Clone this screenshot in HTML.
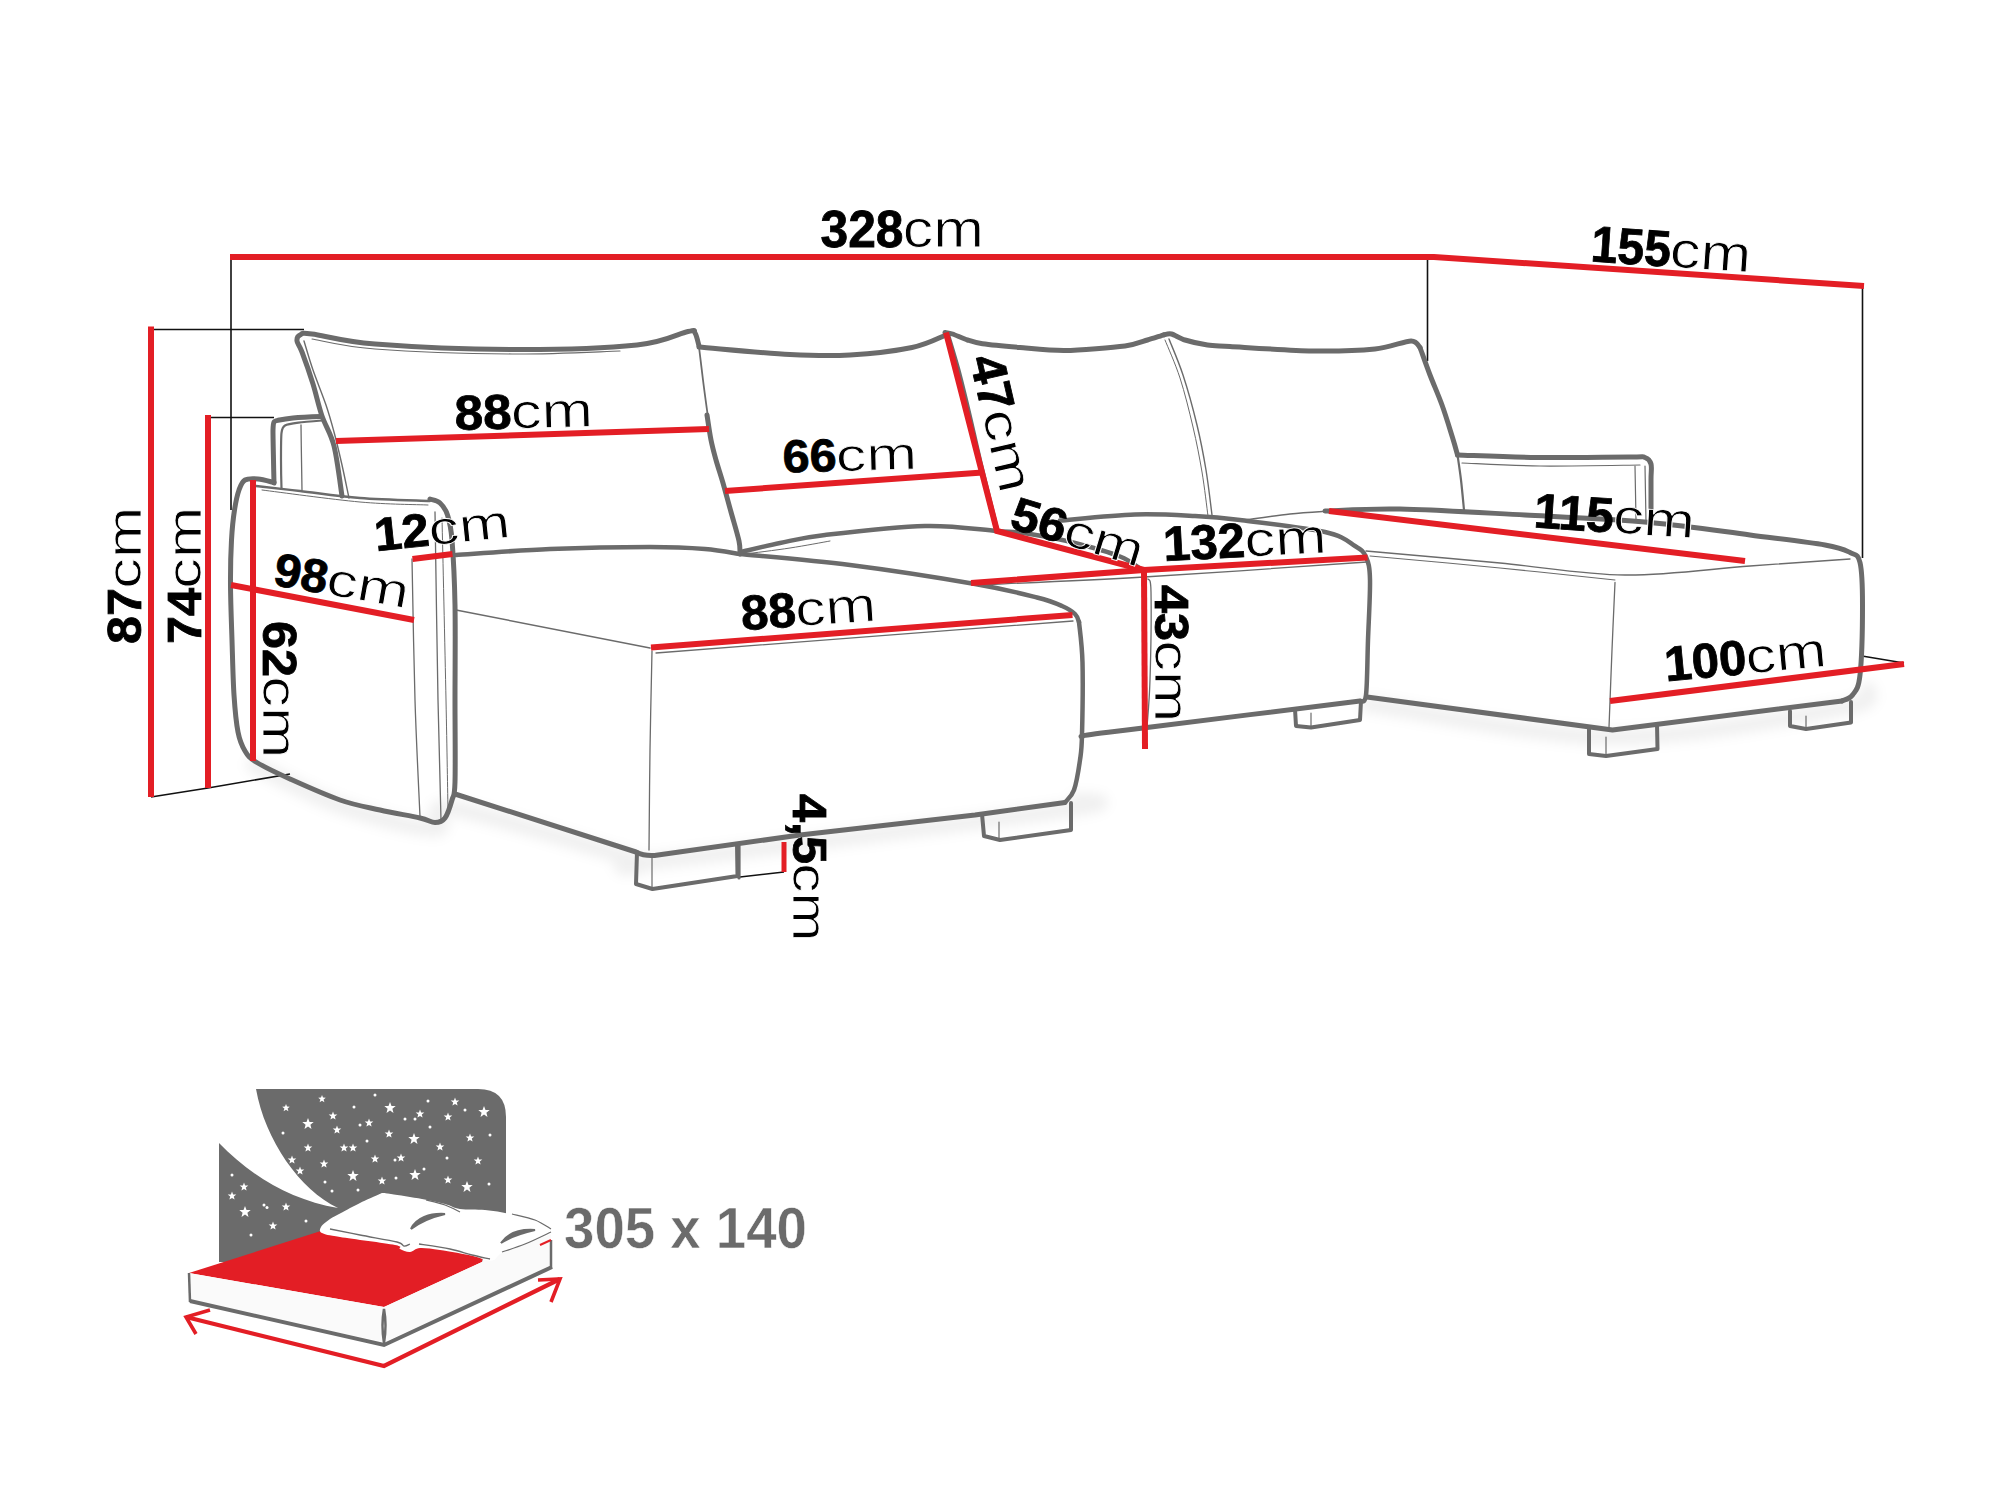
<!DOCTYPE html>
<html><head><meta charset="utf-8"><style>
html,body{margin:0;padding:0;background:#fff;}
svg{display:block;}
</style></head><body>
<svg width="2000" height="1499" viewBox="0 0 2000 1499">
<rect width="2000" height="1499" fill="#ffffff"/>
<defs><filter id="blur" x="-10%" y="-10%" width="120%" height="120%"><feGaussianBlur stdDeviation="6"/></filter></defs>
<g filter="url(#blur)"><path d="M254.0,765.0 C268.3,771.8 309.8,795.3 340.0,806.0 C370.2,816.7 416.3,828.7 435.0,829.0 C453.7,829.3 418.3,802.8 452.0,808.0 C485.7,813.2 604.0,851.0 637.0,860.0 C670.0,869.0 578.7,870.3 650.0,862.0 C721.3,853.7 993.7,820.3 1065.0,810.0 C1136.3,799.7 1075.8,801.7 1078.0,800.0" fill="none" stroke="#000" stroke-opacity="0.06" stroke-width="16" stroke-linecap="round" stroke-linejoin="round"/><path d="M1367.0,704.0 C1407.8,709.5 1532.8,736.3 1612.0,737.0 C1691.2,737.7 1799.3,715.8 1842.0,708.0 C1884.7,700.2 1863.7,693.0 1868.0,690.0" fill="none" stroke="#000" stroke-opacity="0.06" stroke-width="16" stroke-linecap="round" stroke-linejoin="round"/></g>
<path d="M151.0,329.5 L304.0,329.5" fill="none" stroke="#111" stroke-width="1.6"/><path d="M231.0,257.0 L231.0,510.0" fill="none" stroke="#111" stroke-width="1.6"/><path d="M208.0,417.5 L274.0,417.5" fill="none" stroke="#111" stroke-width="1.6"/><path d="M151.0,797.0 L208.0,788.0 L290.0,774.0" fill="none" stroke="#111" stroke-width="1.6"/><path d="M1427.5,257.0 L1427.5,361.0" fill="none" stroke="#111" stroke-width="1.6"/><path d="M1862.5,286.0 L1862.5,558.0" fill="none" stroke="#111" stroke-width="1.6"/><path d="M1862.0,656.0 L1904.0,663.0" fill="none" stroke="#111" stroke-width="1.6"/><path d="M740.0,877.0 L784.0,872.0" fill="none" stroke="#111" stroke-width="1.6"/>
<path d="M342.0,496.0 C340.7,487.7 337.3,459.3 334.0,446.0 C330.7,432.7 325.5,426.3 322.0,416.0 C318.5,405.7 316.3,394.7 313.0,384.0 C309.7,373.3 304.7,359.2 302.0,352.0 C299.3,344.8 297.3,343.8 297.0,341.0 C296.7,338.2 297.5,336.2 300.0,335.0 C302.5,333.8 299.5,332.5 312.0,334.0 C324.5,335.5 341.7,341.4 375.0,344.0 C408.3,346.6 468.3,349.3 512.0,349.5 C555.7,349.7 607.7,348.0 637.0,345.0 C666.3,342.0 678.3,333.5 688.0,331.5 C697.7,329.5 693.2,330.6 695.0,333.0 C696.8,335.4 698.3,343.8 699.0,346.0" fill="none" stroke="#6b6b6b" stroke-width="5" stroke-linejoin="round" stroke-linecap="round" /><path d="M699.0,347.0 C699.7,352.5 701.7,369.5 703.0,380.0 C704.3,390.5 705.8,401.3 707.0,410.0 C708.2,418.7 709.5,428.3 710.0,432.0" fill="none" stroke="#6b6b6b" stroke-width="1.8" stroke-linejoin="round" stroke-linecap="round" /><path d="M707.0,415.0 C707.7,419.2 709.5,432.5 711.0,440.0 C712.5,447.5 714.0,452.8 716.0,460.0 C718.0,467.2 720.5,474.3 723.0,483.0 C725.5,491.7 728.3,502.3 731.0,512.0 C733.7,521.7 737.5,534.0 739.0,541.0 C740.5,548.0 739.8,551.8 740.0,554.0" fill="none" stroke="#6b6b6b" stroke-width="5" stroke-linejoin="round" stroke-linecap="round" /><path d="M304.0,341.0 C305.5,345.8 309.3,359.3 313.0,370.0 C316.7,380.7 322.5,394.7 326.0,405.0 C329.5,415.3 331.3,422.0 334.0,432.0 C336.7,442.0 339.5,454.0 342.0,465.0 C344.5,476.0 347.8,492.5 349.0,498.0" fill="none" stroke="#6b6b6b" stroke-width="1.4" stroke-linejoin="round" stroke-linecap="round" /><path d="M312.0,339.0 C322.5,340.7 341.7,346.5 375.0,349.0 C408.3,351.5 471.2,353.7 512.0,354.0 C552.8,354.3 602.0,351.5 620.0,351.0" fill="none" stroke="#6b6b6b" stroke-width="1.2" stroke-linejoin="round" stroke-linecap="round" /><path d="M699.0,347.0 C714.2,348.2 764.8,353.2 790.0,354.5 C815.2,355.8 829.7,356.2 850.0,355.0 C870.3,353.8 896.0,350.8 912.0,347.5 C928.0,344.2 940.3,337.1 946.0,335.0" fill="none" stroke="#6b6b6b" stroke-width="5" stroke-linejoin="round" stroke-linecap="round" /><path d="M997.0,531.0 C994.2,519.5 984.8,482.2 980.0,462.0 C975.2,441.8 971.7,425.3 968.0,410.0 C964.3,394.7 961.3,382.3 958.0,370.0 C954.7,357.7 949.7,341.7 948.0,336.0" fill="none" stroke="#6b6b6b" stroke-width="5" stroke-linejoin="round" stroke-linecap="round" /><path d="M945.0,332.5 C946.0,332.7 949.5,333.0 952.5,334.0 C955.5,335.0 963.5,338.7 967.5,340.0 C971.5,341.3 975.5,342.8 982.5,343.8 C989.5,344.8 1009.0,346.6 1020.0,347.5 C1031.0,348.4 1051.0,350.7 1065.0,350.5 C1079.0,350.3 1114.0,347.4 1125.0,346.0 C1136.0,344.6 1142.3,341.5 1147.5,340.0 C1152.7,338.5 1161.8,335.4 1164.0,334.8" fill="none" stroke="#6b6b6b" stroke-width="5" stroke-linejoin="round" stroke-linecap="round" /><path d="M1164.0,334.8 C1165.0,334.6 1168.7,333.3 1171.5,334.0 C1174.3,334.7 1180.2,338.5 1185.0,340.0 C1189.8,341.5 1201.5,344.1 1207.5,345.0 C1213.5,345.9 1216.1,345.7 1230.0,346.5 C1243.9,347.3 1292.7,350.7 1312.0,351.0 C1331.3,351.3 1361.8,350.3 1375.0,349.0 C1388.2,347.7 1405.0,341.2 1411.0,341.0 C1417.0,340.8 1418.8,346.6 1420.0,347.5" fill="none" stroke="#6b6b6b" stroke-width="5" stroke-linejoin="round" stroke-linecap="round" /><path d="M1420.0,347.5 C1421.7,352.1 1426.3,365.4 1430.0,375.0 C1433.7,384.6 1438.2,394.6 1442.0,405.0 C1445.8,415.4 1449.9,429.2 1452.5,437.5 C1455.1,445.8 1456.7,452.1 1457.5,455.0" fill="none" stroke="#6b6b6b" stroke-width="5" stroke-linejoin="round" stroke-linecap="round" /><path d="M1457.5,455.0 C1458.1,459.2 1459.9,470.8 1461.0,480.0 C1462.1,489.2 1463.5,505.0 1464.0,510.0" fill="none" stroke="#6b6b6b" stroke-width="2.2" stroke-linejoin="round" stroke-linecap="round" /><path d="M1169.0,339.0 C1171.3,345.0 1178.3,360.7 1183.0,375.0 C1187.7,389.3 1193.2,409.2 1197.0,425.0 C1200.8,440.8 1203.5,455.0 1206.0,470.0 C1208.5,485.0 1211.0,507.5 1212.0,515.0" fill="none" stroke="#6b6b6b" stroke-width="1.4" stroke-linejoin="round" stroke-linecap="round" /><path d="M1165.0,340.0 C1167.5,346.3 1175.3,363.5 1180.0,378.0 C1184.7,392.5 1189.3,411.3 1193.0,427.0 C1196.7,442.7 1199.5,457.2 1202.0,472.0 C1204.5,486.8 1207.0,508.7 1208.0,516.0" fill="none" stroke="#6b6b6b" stroke-width="1.0" stroke-linejoin="round" stroke-linecap="round" /><path d="M1457.5,455.0 C1470.8,455.4 1508.2,457.2 1537.0,457.5 C1565.8,457.8 1612.0,457.0 1630.0,457.0 C1648.0,457.0 1641.5,456.3 1645.0,457.5 C1648.5,458.7 1650.0,460.2 1651.0,464.0 C1652.0,467.8 1651.0,470.2 1651.0,480.0 C1651.0,489.8 1651.0,515.8 1651.0,523.0" fill="none" stroke="#6b6b6b" stroke-width="5" stroke-linejoin="round" stroke-linecap="round" /><path d="M1462.0,463.0 C1475.0,463.5 1510.3,465.7 1540.0,466.0 C1569.7,466.3 1623.3,465.2 1640.0,465.0" fill="none" stroke="#6b6b6b" stroke-width="1.2" stroke-linejoin="round" stroke-linecap="round" /><path d="M1635.0,466.0 L1636.0,520.0" fill="none" stroke="#6b6b6b" stroke-width="1.2" stroke-linejoin="round" stroke-linecap="round" /><path d="M1645.0,466.0 L1646.0,522.0" fill="none" stroke="#6b6b6b" stroke-width="1.2" stroke-linejoin="round" stroke-linecap="round" /><path d="M274.0,483.0 C273.9,480.7 273.6,465.3 273.5,460.0 C273.4,454.7 272.9,433.8 273.0,430.0 C273.1,426.2 273.5,423.0 274.0,422.0 C274.5,421.0 276.1,420.7 278.0,420.3 C279.9,419.9 288.7,418.4 293.0,418.0 C297.3,417.6 318.2,416.6 321.0,416.5" fill="none" stroke="#6b6b6b" stroke-width="5" stroke-linejoin="round" stroke-linecap="round" /><path d="M281.5,488.0 C281.4,485.2 281.0,465.5 281.0,460.0 C281.0,454.5 281.1,436.4 281.5,433.0 C281.9,429.6 283.3,426.5 285.0,425.5 C286.7,424.5 294.8,423.2 298.5,422.7 C302.2,422.2 319.6,420.7 322.0,420.5" fill="none" stroke="#6b6b6b" stroke-width="2.2" stroke-linejoin="round" stroke-linecap="round" /><path d="M301.0,425.0 C301.1,430.8 301.3,449.2 301.5,460.0 C301.7,470.8 301.9,485.0 302.0,490.0" fill="none" stroke="#6b6b6b" stroke-width="1.3" stroke-linejoin="round" stroke-linecap="round" /><path d="M430.0,499.0 C431.7,499.7 437.1,500.3 440.0,503.0 C442.9,505.7 445.5,508.8 447.5,515.0 C449.5,521.2 450.8,525.0 452.0,540.0 C453.2,555.0 454.5,578.3 455.0,605.0 C455.5,631.7 455.0,670.5 455.0,700.0 C455.0,729.5 455.5,765.3 455.0,782.0 C454.5,798.7 453.7,794.0 452.0,800.0 C450.3,806.0 447.8,814.2 445.0,818.0 C442.2,821.8 439.2,822.5 435.0,822.5 C430.8,822.5 429.2,820.1 420.0,818.0 C410.8,815.9 393.3,813.0 380.0,810.0 C366.7,807.0 355.0,805.2 340.0,800.0 C325.0,794.8 304.0,785.3 290.0,779.0 C276.0,772.7 263.5,766.7 256.0,762.0 C248.5,757.3 248.0,756.0 245.0,751.0 C242.0,746.0 239.8,741.3 238.0,732.0 C236.2,722.7 235.0,710.3 234.0,695.0 C233.0,679.7 232.6,658.3 232.0,640.0 C231.4,621.7 230.6,601.7 230.5,585.0 C230.4,568.3 230.8,552.5 231.5,540.0 C232.2,527.5 233.2,518.3 234.5,510.0 C235.8,501.7 237.2,495.0 239.0,490.0 C240.8,485.0 241.8,481.8 245.0,480.0 C248.2,478.2 253.2,478.6 258.0,479.0 C262.8,479.4 271.3,481.9 274.0,482.5" fill="none" stroke="#6b6b6b" stroke-width="5" stroke-linejoin="round" stroke-linecap="round" /><path d="M256.0,486.0 C263.3,486.8 282.7,489.0 300.0,491.0 C317.3,493.0 338.3,496.3 360.0,498.0 C381.7,499.7 418.3,500.5 430.0,501.0" fill="none" stroke="#6b6b6b" stroke-width="2.4" stroke-linejoin="round" stroke-linecap="round" /><path d="M262.0,490.0 C278.3,492.0 332.3,499.5 360.0,502.0 C387.7,504.5 416.7,504.5 428.0,505.0" fill="none" stroke="#6b6b6b" stroke-width="1.0" stroke-linejoin="round" stroke-linecap="round" /><path d="M412.0,559.0 C412.5,582.5 413.7,657.0 415.0,700.0 C416.3,743.0 419.2,797.5 420.0,817.0" fill="none" stroke="#6b6b6b" stroke-width="1.3" stroke-linejoin="round" stroke-linecap="round" /><path d="M435.0,512.0 C435.5,543.3 437.0,648.7 438.0,700.0 C439.0,751.3 440.5,800.0 441.0,820.0" fill="none" stroke="#6b6b6b" stroke-width="1.3" stroke-linejoin="round" stroke-linecap="round" /><path d="M442.0,518.0 C442.7,548.3 445.0,651.0 446.0,700.0 C447.0,749.0 447.7,793.3 448.0,812.0" fill="none" stroke="#6b6b6b" stroke-width="1.0" stroke-linejoin="round" stroke-linecap="round" /><path d="M456.0,555.0 C471.7,554.0 517.7,550.3 550.0,549.0 C582.3,547.7 624.2,547.0 650.0,547.0 C675.8,547.0 690.0,547.8 705.0,549.0 C720.0,550.2 734.2,553.2 740.0,554.0" fill="none" stroke="#6b6b6b" stroke-width="4.5" stroke-linejoin="round" stroke-linecap="round" /><path d="M740.0,554.0 C758.3,555.8 810.8,560.0 850.0,565.0 C889.2,570.0 943.8,578.6 975.0,584.0 C1006.2,589.4 1022.5,593.8 1037.0,597.5 C1051.5,601.2 1055.7,603.2 1062.0,606.0 C1068.3,608.8 1072.2,611.3 1075.0,614.0 C1077.8,616.7 1078.3,620.7 1079.0,622.0" fill="none" stroke="#6b6b6b" stroke-width="4.5" stroke-linejoin="round" stroke-linecap="round" /><path d="M1079.0,622.0 C1079.6,628.8 1082.0,643.7 1082.5,662.5 C1083.0,681.3 1082.4,718.8 1082.0,735.0 C1081.6,751.2 1081.3,750.8 1080.0,760.0 C1078.7,769.2 1076.5,782.9 1074.0,790.0 C1071.5,797.1 1066.5,800.4 1065.0,802.5" fill="none" stroke="#6b6b6b" stroke-width="4.5" stroke-linejoin="round" stroke-linecap="round" /><path d="M1065,802.5 L975,815 L800,835 L658,855 Q646,857 636,852 L455,794" fill="none" stroke="#6b6b6b" stroke-width="5" stroke-linejoin="round" stroke-linecap="round" /><path d="M456.0,610.0 L650.0,648.0" fill="none" stroke="#6b6b6b" stroke-width="1.5" stroke-linejoin="round" stroke-linecap="round" /><path d="M652.0,651.0 C651.7,667.5 650.5,716.8 650.0,750.0 C649.5,783.2 649.2,833.3 649.0,850.0" fill="none" stroke="#6b6b6b" stroke-width="1.3" stroke-linejoin="round" stroke-linecap="round" /><path d="M656.0,653.0 L1073.0,621.0" fill="none" stroke="#6b6b6b" stroke-width="1.3" stroke-linejoin="round" stroke-linecap="round" /><path d="M741.0,552.0 C747.5,550.5 766.0,545.8 780.0,543.0 C794.0,540.2 800.8,537.8 825.0,535.0 C849.2,532.2 896.3,526.7 925.0,526.0 C953.7,525.3 979.5,529.7 997.0,531.0 C1014.5,532.3 1017.0,532.0 1030.0,534.0 C1043.0,536.0 1060.0,539.2 1075.0,543.0 C1090.0,546.8 1109.2,552.2 1120.0,556.5 C1130.8,560.8 1136.7,566.5 1140.0,568.5" fill="none" stroke="#6b6b6b" stroke-width="4.5" stroke-linejoin="round" stroke-linecap="round" /><path d="M745.0,554.0 C752.5,553.0 775.8,550.2 790.0,548.0 C804.2,545.8 823.3,542.2 830.0,541.0" fill="none" stroke="#6b6b6b" stroke-width="1.0" stroke-linejoin="round" stroke-linecap="round" /><path d="M1060.0,520.5 C1072.5,519.5 1112.5,515.2 1135.0,514.5 C1157.5,513.8 1177.5,515.1 1195.0,516.0 C1212.5,516.9 1218.3,517.3 1240.0,520.0 C1261.7,522.7 1305.8,527.7 1325.0,532.0 C1344.2,536.3 1348.2,541.8 1355.0,546.0 C1361.8,550.2 1363.5,551.3 1366.0,557.0 C1368.5,562.7 1369.7,566.2 1370.0,580.0 C1370.3,593.8 1368.7,620.8 1368.0,640.0 C1367.3,659.2 1367.3,684.8 1366.0,695.0 C1364.7,705.2 1361.0,700.0 1360.0,701.0" fill="none" stroke="#6b6b6b" stroke-width="4.5" stroke-linejoin="round" stroke-linecap="round" /><path d="M1360.0,701.0 C1324.5,705.4 1192.4,721.8 1147.0,727.5 C1101.6,733.2 1098.3,733.4 1087.5,735.0 C1076.7,736.6 1082.9,736.7 1082.0,737.0" fill="none" stroke="#6b6b6b" stroke-width="5" stroke-linejoin="round" stroke-linecap="round" /><path d="M977.0,585.0 C1004.8,583.7 1079.0,580.8 1144.0,577.0 C1209.0,573.2 1329.8,564.5 1367.0,562.0" fill="none" stroke="#6b6b6b" stroke-width="1.3" stroke-linejoin="round" stroke-linecap="round" /><path d="M1148.0,579.0 C1148.5,581.2 1150.7,575.2 1151.0,592.0 C1151.3,608.8 1150.7,657.5 1150.0,680.0 C1149.3,702.5 1147.5,719.2 1147.0,727.0" fill="none" stroke="#6b6b6b" stroke-width="1.3" stroke-linejoin="round" stroke-linecap="round" /><path d="M1325.0,511.0 C1337.5,510.7 1366.7,508.3 1400.0,509.0 C1433.3,509.7 1483.3,512.8 1525.0,515.0 C1566.7,517.2 1612.5,519.2 1650.0,522.5 C1687.5,525.8 1720.8,531.2 1750.0,535.0 C1779.2,538.8 1808.3,542.1 1825.0,545.0 C1841.7,547.9 1844.2,549.6 1850.0,552.5 C1855.8,555.4 1857.9,553.8 1860.0,562.5 C1862.1,571.2 1862.5,586.2 1862.5,605.0 C1862.5,623.8 1861.7,660.0 1860.0,675.0 C1858.3,690.0 1855.5,690.7 1852.5,695.0 C1849.5,699.3 1843.8,700.0 1842.0,701.0" fill="none" stroke="#6b6b6b" stroke-width="5" stroke-linejoin="round" stroke-linecap="round" /><path d="M1245.0,520.0 C1252.5,519.0 1275.8,515.5 1290.0,514.0 C1304.2,512.5 1323.3,511.5 1330.0,511.0" fill="none" stroke="#6b6b6b" stroke-width="1.6" stroke-linejoin="round" stroke-linecap="round" /><path d="M1842.0,701.0 L1612.5,730.0 L1367.0,697.0" fill="none" stroke="#6b6b6b" stroke-width="5" stroke-linejoin="round" stroke-linecap="round" /><path d="M1366.0,551.0 C1388.3,553.0 1456.8,559.0 1500.0,563.0 C1543.2,567.0 1583.3,574.5 1625.0,575.0 C1666.7,575.5 1712.5,568.7 1750.0,566.0 C1787.5,563.3 1833.3,560.2 1850.0,559.0" fill="none" stroke="#6b6b6b" stroke-width="1.3" stroke-linejoin="round" stroke-linecap="round" /><path d="M1370.0,556.0 C1391.7,558.0 1459.2,564.0 1500.0,568.0 C1540.8,572.0 1595.8,578.0 1615.0,580.0" fill="none" stroke="#6b6b6b" stroke-width="1.1" stroke-linejoin="round" stroke-linecap="round" /><path d="M1615.0,582.5 C1614.5,593.8 1613.0,625.8 1612.0,650.0 C1611.0,674.2 1609.5,714.6 1609.0,727.5" fill="none" stroke="#6b6b6b" stroke-width="1.3" stroke-linejoin="round" stroke-linecap="round" /><path d="M637.0,852.0 L636.0,884.0 L652.5,889.0 L737.5,876.0 L737.0,844.0" fill="none" stroke="#6b6b6b" stroke-width="4" stroke-linejoin="round" stroke-linecap="round" /><path d="M982.0,814.0 L984.0,836.0 L1000.0,840.0 L1071.0,830.0 L1071.0,803.0" fill="none" stroke="#6b6b6b" stroke-width="4" stroke-linejoin="round" stroke-linecap="round" /><path d="M1295.0,709.0 L1296.0,726.0 L1311.0,727.5 L1360.0,720.0 L1361.0,701.0" fill="none" stroke="#6b6b6b" stroke-width="4" stroke-linejoin="round" stroke-linecap="round" /><path d="M1589.0,727.0 L1589.0,754.0 L1606.0,756.0 L1657.5,749.0 L1657.0,724.0" fill="none" stroke="#6b6b6b" stroke-width="4" stroke-linejoin="round" stroke-linecap="round" /><path d="M1790.0,711.0 L1790.0,726.0 L1806.0,729.0 L1851.0,722.5 L1851.0,702.0" fill="none" stroke="#6b6b6b" stroke-width="4" stroke-linejoin="round" stroke-linecap="round" /><path d="M652.0,855.0 L652.0,887.0" fill="none" stroke="#6b6b6b" stroke-width="1.2" stroke-linejoin="round" stroke-linecap="round" /><path d="M999.0,822.0 L999.0,839.0" fill="none" stroke="#6b6b6b" stroke-width="1.2" stroke-linejoin="round" stroke-linecap="round" /><path d="M1311.0,713.0 L1311.0,727.0" fill="none" stroke="#6b6b6b" stroke-width="1.2" stroke-linejoin="round" stroke-linecap="round" /><path d="M1606.0,737.0 L1606.0,756.0" fill="none" stroke="#6b6b6b" stroke-width="1.2" stroke-linejoin="round" stroke-linecap="round" /><path d="M1806.0,716.0 L1806.0,729.0" fill="none" stroke="#6b6b6b" stroke-width="1.2" stroke-linejoin="round" stroke-linecap="round" /><path d="M739.0,846.0 L739.0,878.0" fill="none" stroke="#6b6b6b" stroke-width="3.2" stroke-linejoin="round" stroke-linecap="round" />
<path d="M230.0,257.0 L1434.0,257.0 L1864.0,286.0" fill="none" stroke="#e31e25" stroke-width="6" stroke-linejoin="miter" stroke-linecap="butt"/><path d="M151.0,326.5 L151.0,797.0" fill="none" stroke="#e31e25" stroke-width="6" stroke-linejoin="miter" stroke-linecap="butt"/><path d="M208.0,415.0 L208.0,788.0" fill="none" stroke="#e31e25" stroke-width="6" stroke-linejoin="miter" stroke-linecap="butt"/><path d="M253.0,480.0 L253.0,761.0" fill="none" stroke="#e31e25" stroke-width="6" stroke-linejoin="miter" stroke-linecap="butt"/><path d="M231.0,585.0 L414.0,620.0" fill="none" stroke="#e31e25" stroke-width="6" stroke-linejoin="miter" stroke-linecap="butt"/><path d="M412.5,559.0 L452.5,554.0" fill="none" stroke="#e31e25" stroke-width="6" stroke-linejoin="miter" stroke-linecap="butt"/><path d="M336.0,441.0 L709.0,429.0" fill="none" stroke="#e31e25" stroke-width="6" stroke-linejoin="miter" stroke-linecap="butt"/><path d="M725.0,491.0 L982.5,472.5" fill="none" stroke="#e31e25" stroke-width="6" stroke-linejoin="miter" stroke-linecap="butt"/><path d="M946.0,332.5 L997.0,531.0 L1144.0,570.0" fill="none" stroke="#e31e25" stroke-width="6" stroke-linejoin="miter" stroke-linecap="butt"/><path d="M971.0,583.0 L1144.0,570.0 L1367.5,557.5" fill="none" stroke="#e31e25" stroke-width="6" stroke-linejoin="miter" stroke-linecap="butt"/><path d="M1144.0,570.0 L1145.0,749.0" fill="none" stroke="#e31e25" stroke-width="6" stroke-linejoin="miter" stroke-linecap="butt"/><path d="M651.0,647.5 L1072.5,615.0" fill="none" stroke="#e31e25" stroke-width="6" stroke-linejoin="miter" stroke-linecap="butt"/><path d="M1329.0,511.0 L1745.0,561.0" fill="none" stroke="#e31e25" stroke-width="6" stroke-linejoin="miter" stroke-linecap="butt"/><path d="M1610.0,701.0 L1904.0,664.0" fill="none" stroke="#e31e25" stroke-width="6" stroke-linejoin="miter" stroke-linecap="butt"/><path d="M784.0,842.0 L784.0,872.0" fill="none" stroke="#e31e25" stroke-width="5" stroke-linejoin="miter" stroke-linecap="butt"/>
<g transform="translate(822.5,247) rotate(0)"><text x="-2" y="0" font-family="Liberation Sans" font-weight="bold" font-size="51" textLength="83" lengthAdjust="spacingAndGlyphs" fill="#000" stroke="#000" stroke-width="0.8">328</text><text x="80.3" y="0" font-family="Liberation Sans" font-size="51" textLength="81" lengthAdjust="spacingAndGlyphs" fill="#000" stroke="#fff" stroke-width="0.8">cm</text></g><g transform="translate(1592,261.5) rotate(3.9)"><text x="-2" y="0" font-family="Liberation Sans" font-weight="bold" font-size="51" textLength="80" lengthAdjust="spacingAndGlyphs" fill="#000" stroke="#000" stroke-width="0.8">155</text><text x="77.3" y="0" font-family="Liberation Sans" font-size="51" textLength="81" lengthAdjust="spacingAndGlyphs" fill="#000" stroke="#fff" stroke-width="0.8">cm</text></g><g transform="translate(457,430) rotate(-1.5)"><text x="-2" y="0" font-family="Liberation Sans" font-weight="bold" font-size="49" textLength="57" lengthAdjust="spacingAndGlyphs" fill="#000" stroke="#000" stroke-width="0.8">88</text><text x="54.3" y="0" font-family="Liberation Sans" font-size="49" textLength="82" lengthAdjust="spacingAndGlyphs" fill="#000" stroke="#fff" stroke-width="0.8">cm</text></g><g transform="translate(785,472.5) rotate(-1.5)"><text x="-2" y="0" font-family="Liberation Sans" font-weight="bold" font-size="46" textLength="54" lengthAdjust="spacingAndGlyphs" fill="#000" stroke="#000" stroke-width="0.8">66</text><text x="51.3" y="0" font-family="Liberation Sans" font-size="46" textLength="81" lengthAdjust="spacingAndGlyphs" fill="#000" stroke="#fff" stroke-width="0.8">cm</text></g><g transform="translate(970,361) rotate(77)"><text x="-2" y="0" font-family="Liberation Sans" font-weight="bold" font-size="49" textLength="56" lengthAdjust="spacingAndGlyphs" fill="#000" stroke="#000" stroke-width="0.8">47</text><text x="53.3" y="0" font-family="Liberation Sans" font-size="49" textLength="84" lengthAdjust="spacingAndGlyphs" fill="#000" stroke="#fff" stroke-width="0.8">cm</text></g><g transform="translate(378,551) rotate(-6)"><text x="-2" y="0" font-family="Liberation Sans" font-weight="bold" font-size="47" textLength="55" lengthAdjust="spacingAndGlyphs" fill="#000" stroke="#000" stroke-width="0.8">12</text><text x="52.3" y="0" font-family="Liberation Sans" font-size="47" textLength="82" lengthAdjust="spacingAndGlyphs" fill="#000" stroke="#fff" stroke-width="0.8">cm</text></g><g transform="translate(274,585) rotate(10)"><text x="-2" y="0" font-family="Liberation Sans" font-weight="bold" font-size="47" textLength="54" lengthAdjust="spacingAndGlyphs" fill="#000" stroke="#000" stroke-width="0.8">98</text><text x="51.3" y="0" font-family="Liberation Sans" font-size="47" textLength="83" lengthAdjust="spacingAndGlyphs" fill="#000" stroke="#fff" stroke-width="0.8">cm</text></g><g transform="translate(263,623) rotate(90)"><text x="-2" y="0" font-family="Liberation Sans" font-weight="bold" font-size="48" textLength="56" lengthAdjust="spacingAndGlyphs" fill="#000" stroke="#000" stroke-width="0.8">62</text><text x="53.3" y="0" font-family="Liberation Sans" font-size="48" textLength="82" lengthAdjust="spacingAndGlyphs" fill="#000" stroke="#fff" stroke-width="0.8">cm</text></g><g transform="translate(141,642) rotate(-90)"><text x="-2" y="0" font-family="Liberation Sans" font-weight="bold" font-size="48" textLength="56" lengthAdjust="spacingAndGlyphs" fill="#000" stroke="#000" stroke-width="0.8">87</text><text x="53.3" y="0" font-family="Liberation Sans" font-size="48" textLength="82" lengthAdjust="spacingAndGlyphs" fill="#000" stroke="#fff" stroke-width="0.8">cm</text></g><g transform="translate(201,642) rotate(-90)"><text x="-2" y="0" font-family="Liberation Sans" font-weight="bold" font-size="48" textLength="56" lengthAdjust="spacingAndGlyphs" fill="#000" stroke="#000" stroke-width="0.8">74</text><text x="53.3" y="0" font-family="Liberation Sans" font-size="48" textLength="82" lengthAdjust="spacingAndGlyphs" fill="#000" stroke="#fff" stroke-width="0.8">cm</text></g><g transform="translate(744,630) rotate(-4)"><text x="-2" y="0" font-family="Liberation Sans" font-weight="bold" font-size="49" textLength="55" lengthAdjust="spacingAndGlyphs" fill="#000" stroke="#000" stroke-width="0.8">88</text><text x="52.3" y="0" font-family="Liberation Sans" font-size="49" textLength="81" lengthAdjust="spacingAndGlyphs" fill="#000" stroke="#fff" stroke-width="0.8">cm</text></g><g transform="translate(1010,528) rotate(17)"><text x="-2" y="0" font-family="Liberation Sans" font-weight="bold" font-size="47" textLength="56" lengthAdjust="spacingAndGlyphs" fill="#000" stroke="#000" stroke-width="0.8">56</text><text x="53.3" y="0" font-family="Liberation Sans" font-size="47" textLength="81" lengthAdjust="spacingAndGlyphs" fill="#000" stroke="#fff" stroke-width="0.8">cm</text></g><g transform="translate(1166,561) rotate(-3)"><text x="-2" y="0" font-family="Liberation Sans" font-weight="bold" font-size="49" textLength="82" lengthAdjust="spacingAndGlyphs" fill="#000" stroke="#000" stroke-width="0.8">132</text><text x="79.3" y="0" font-family="Liberation Sans" font-size="49" textLength="82" lengthAdjust="spacingAndGlyphs" fill="#000" stroke="#fff" stroke-width="0.8">cm</text></g><g transform="translate(1155,587) rotate(90)"><text x="-2" y="0" font-family="Liberation Sans" font-weight="bold" font-size="48" textLength="56" lengthAdjust="spacingAndGlyphs" fill="#000" stroke="#000" stroke-width="0.8">43</text><text x="53.3" y="0" font-family="Liberation Sans" font-size="48" textLength="82" lengthAdjust="spacingAndGlyphs" fill="#000" stroke="#fff" stroke-width="0.8">cm</text></g><g transform="translate(1535,527.5) rotate(3.8)"><text x="-2" y="0" font-family="Liberation Sans" font-weight="bold" font-size="49" textLength="80" lengthAdjust="spacingAndGlyphs" fill="#000" stroke="#000" stroke-width="0.8">115</text><text x="77.3" y="0" font-family="Liberation Sans" font-size="49" textLength="82" lengthAdjust="spacingAndGlyphs" fill="#000" stroke="#fff" stroke-width="0.8">cm</text></g><g transform="translate(1668,681) rotate(-5.3)"><text x="-2" y="0" font-family="Liberation Sans" font-weight="bold" font-size="49" textLength="82" lengthAdjust="spacingAndGlyphs" fill="#000" stroke="#000" stroke-width="0.8">100</text><text x="79.3" y="0" font-family="Liberation Sans" font-size="49" textLength="81" lengthAdjust="spacingAndGlyphs" fill="#000" stroke="#fff" stroke-width="0.8">cm</text></g><g transform="translate(793,796) rotate(90)"><text x="-2" y="0" font-family="Liberation Sans" font-weight="bold" font-size="48" textLength="70" lengthAdjust="spacingAndGlyphs" fill="#000" stroke="#000" stroke-width="0.8">4,5</text><text x="67.3" y="0" font-family="Liberation Sans" font-size="48" textLength="78" lengthAdjust="spacingAndGlyphs" fill="#000" stroke="#fff" stroke-width="0.8">cm</text></g>
<path d="M256,1089 L478,1089 Q506,1089 506,1117 L506,1262 L219,1262 L219,1143 C250,1175 290,1200 338,1208 C300,1190 265,1140 256,1089Z" fill="#6b6b6b"/><path d="M189,1273 L324,1230 L420,1240 L485,1252 L482,1262 L384,1307Z" fill="#e31e25"/><path d="M189,1273 L384,1307 L384,1342 L190,1302Z" fill="#fafafa"/><path d="M384,1307 L482,1262 L485,1252 L551,1230 L551,1267 L384,1342Z" fill="#fafafa"/><path d="M190,1301 L384,1345 L552,1267" fill="none" stroke="#6b6b6b" stroke-width="4"/><path d="M189,1273 L190,1302" fill="none" stroke="#6b6b6b" stroke-width="2.5"/><path d="M551,1240 L551,1268" fill="none" stroke="#6b6b6b" stroke-width="2.5"/><path d="M384,1309 Q381,1325 384,1343 Q387,1325 384,1309Z" fill="none" stroke="#6b6b6b" stroke-width="2.5"/><path d="M321.0,1227.0 C322.3,1224.7 326.7,1221.3 330.0,1219.0 C333.3,1216.7 336.0,1215.7 341.0,1213.0 C346.0,1210.3 353.9,1206.0 360.0,1203.0 C366.1,1200.0 373.7,1196.7 377.5,1195.0 C381.3,1193.3 380.8,1193.2 383.0,1193.0 C385.2,1192.8 384.5,1193.0 391.0,1194.0 C397.5,1195.0 413.0,1197.3 422.0,1199.0 C431.0,1200.7 438.7,1202.3 445.0,1204.0 C451.3,1205.7 453.3,1208.0 460.0,1209.0 C466.7,1210.0 476.7,1209.2 485.0,1210.0 C493.3,1210.8 501.7,1212.2 510.0,1214.0 C518.3,1215.8 528.0,1218.5 535.0,1221.0 C542.0,1223.5 549.3,1226.8 552.0,1229.0 C554.7,1231.2 554.7,1231.8 551.0,1234.0 C547.3,1236.2 538.2,1238.8 530.0,1242.0 C521.8,1245.2 508.0,1250.0 502.0,1253.0 C496.0,1256.0 496.8,1258.8 494.0,1260.0 C491.2,1261.2 488.5,1260.7 485.0,1260.0 C481.5,1259.3 480.5,1257.7 473.0,1256.0 C465.5,1254.3 448.8,1251.3 440.0,1250.0 C431.2,1248.7 425.0,1247.7 420.0,1248.0 C415.0,1248.3 413.3,1251.8 410.0,1252.0 C406.7,1252.2 402.5,1250.2 400.0,1249.0 C397.5,1247.8 405.0,1247.0 395.0,1245.0 C385.0,1243.0 352.2,1239.0 340.0,1237.0 C327.8,1235.0 325.2,1234.7 322.0,1233.0 C318.8,1231.3 319.7,1229.3 321.0,1227.0Z" fill="#fff" stroke="none"/><path d="M330.0,1229.0 C335.0,1230.0 348.8,1232.8 360.0,1235.0 C371.2,1237.2 389.7,1240.2 397.0,1242.0 C404.3,1243.8 401.8,1245.7 404.0,1246.0 C406.2,1246.3 409.0,1244.3 410.0,1244.0" fill="none" stroke="#6b6b6b" stroke-width="1.3"/><path d="M419.0,1244.0 C424.2,1244.8 441.2,1247.2 450.0,1249.0 C458.8,1250.8 465.3,1253.3 472.0,1255.0 C478.7,1256.7 487.0,1258.3 490.0,1259.0" fill="none" stroke="#6b6b6b" stroke-width="1.3"/><path d="M426.0,1200.0 C429.2,1200.8 439.3,1203.0 445.0,1205.0 C450.7,1207.0 457.5,1210.8 460.0,1212.0" fill="none" stroke="#6b6b6b" stroke-width="1.2"/><path d="M512.0,1214.0 C515.8,1215.0 528.5,1217.5 535.0,1220.0 C541.5,1222.5 548.3,1227.5 551.0,1229.0" fill="none" stroke="#6b6b6b" stroke-width="1.2"/><path d="M502.0,1252.0 C505.8,1250.7 516.8,1247.3 525.0,1244.0 C533.2,1240.7 546.7,1234.0 551.0,1232.0" fill="none" stroke="#6b6b6b" stroke-width="1.2"/><path d="M411,1229 C416,1218 430,1213 445,1214 C432,1217 420,1222 411,1229Z" fill="#6b6b6b" stroke="#6b6b6b" stroke-width="2"/><path d="M501,1243 C508,1233 520,1229 535,1230 C522,1233 510,1237 501,1243Z" fill="#6b6b6b" stroke="#6b6b6b" stroke-width="2"/><path d="M540,1245 L551,1240" fill="none" stroke="#e31e25" stroke-width="2"/><path d="M186,1317 L384,1366 L560,1279" fill="none" stroke="#e31e25" stroke-width="4.2"/><path d="M210,1310 L186,1317 L196,1334" fill="none" stroke="#e31e25" stroke-width="3.6"/><path d="M538,1280 L560,1279 L551,1302" fill="none" stroke="#e31e25" stroke-width="3.6"/><path d="M322.0,1095.0 L323.0,1097.6 L325.8,1097.8 L323.6,1099.5 L324.4,1102.2 L322.0,1100.7 L319.6,1102.2 L320.4,1099.5 L318.2,1097.8 L321.0,1097.6Z" fill="#fff"/><path d="M286.0,1104.0 L287.0,1106.6 L289.8,1106.8 L287.6,1108.5 L288.4,1111.2 L286.0,1109.7 L283.6,1111.2 L284.4,1108.5 L282.2,1106.8 L285.0,1106.6Z" fill="#fff"/><path d="M390.0,1102.0 L391.5,1106.0 L395.7,1106.1 L392.4,1108.8 L393.5,1112.9 L390.0,1110.5 L386.5,1112.9 L387.6,1108.8 L384.3,1106.1 L388.5,1106.0Z" fill="#fff"/><path d="M420.0,1109.5 L421.1,1112.5 L424.3,1112.6 L421.8,1114.6 L422.6,1117.6 L420.0,1115.9 L417.4,1117.6 L418.2,1114.6 L415.7,1112.6 L418.9,1112.5Z" fill="#fff"/><path d="M455.0,1097.5 L456.1,1100.5 L459.3,1100.6 L456.8,1102.6 L457.6,1105.6 L455.0,1103.9 L452.4,1105.6 L453.2,1102.6 L450.7,1100.6 L453.9,1100.5Z" fill="#fff"/><path d="M484.0,1106.0 L485.5,1110.0 L489.7,1110.1 L486.4,1112.8 L487.5,1116.9 L484.0,1114.5 L480.5,1116.9 L481.6,1112.8 L478.3,1110.1 L482.5,1110.0Z" fill="#fff"/><path d="M448.0,1112.5 L449.1,1115.5 L452.3,1115.6 L449.8,1117.6 L450.6,1120.6 L448.0,1118.9 L445.4,1120.6 L446.2,1117.6 L443.7,1115.6 L446.9,1115.5Z" fill="#fff"/><path d="M333.0,1111.5 L334.1,1114.5 L337.3,1114.6 L334.8,1116.6 L335.6,1119.6 L333.0,1117.9 L330.4,1119.6 L331.2,1116.6 L328.7,1114.6 L331.9,1114.5Z" fill="#fff"/><path d="M308.0,1118.0 L309.5,1122.0 L313.7,1122.1 L310.4,1124.8 L311.5,1128.9 L308.0,1126.5 L304.5,1128.9 L305.6,1124.8 L302.3,1122.1 L306.5,1122.0Z" fill="#fff"/><path d="M369.0,1118.5 L370.1,1121.5 L373.3,1121.6 L370.8,1123.6 L371.6,1126.6 L369.0,1124.9 L366.4,1126.6 L367.2,1123.6 L364.7,1121.6 L367.9,1121.5Z" fill="#fff"/><path d="M337.0,1125.5 L338.1,1128.5 L341.3,1128.6 L338.8,1130.6 L339.6,1133.6 L337.0,1131.9 L334.4,1133.6 L335.2,1130.6 L332.7,1128.6 L335.9,1128.5Z" fill="#fff"/><path d="M389.0,1129.5 L390.1,1132.5 L393.3,1132.6 L390.8,1134.6 L391.6,1137.6 L389.0,1135.9 L386.4,1137.6 L387.2,1134.6 L384.7,1132.6 L387.9,1132.5Z" fill="#fff"/><path d="M414.0,1133.0 L415.5,1137.0 L419.7,1137.1 L416.4,1139.8 L417.5,1143.9 L414.0,1141.5 L410.5,1143.9 L411.6,1139.8 L408.3,1137.1 L412.5,1137.0Z" fill="#fff"/><path d="M470.0,1133.5 L471.1,1136.5 L474.3,1136.6 L471.8,1138.6 L472.6,1141.6 L470.0,1139.9 L467.4,1141.6 L468.2,1138.6 L465.7,1136.6 L468.9,1136.5Z" fill="#fff"/><path d="M308.0,1143.5 L309.1,1146.5 L312.3,1146.6 L309.8,1148.6 L310.6,1151.6 L308.0,1149.9 L305.4,1151.6 L306.2,1148.6 L303.7,1146.6 L306.9,1146.5Z" fill="#fff"/><path d="M344.0,1143.5 L345.1,1146.5 L348.3,1146.6 L345.8,1148.6 L346.6,1151.6 L344.0,1149.9 L341.4,1151.6 L342.2,1148.6 L339.7,1146.6 L342.9,1146.5Z" fill="#fff"/><path d="M353.0,1143.5 L354.1,1146.5 L357.3,1146.6 L354.8,1148.6 L355.6,1151.6 L353.0,1149.9 L350.4,1151.6 L351.2,1148.6 L348.7,1146.6 L351.9,1146.5Z" fill="#fff"/><path d="M440.0,1142.5 L441.1,1145.5 L444.3,1145.6 L441.8,1147.6 L442.6,1150.6 L440.0,1148.9 L437.4,1150.6 L438.2,1147.6 L435.7,1145.6 L438.9,1145.5Z" fill="#fff"/><path d="M292.0,1155.5 L293.1,1158.5 L296.3,1158.6 L293.8,1160.6 L294.6,1163.6 L292.0,1161.9 L289.4,1163.6 L290.2,1160.6 L287.7,1158.6 L290.9,1158.5Z" fill="#fff"/><path d="M375.0,1154.5 L376.1,1157.5 L379.3,1157.6 L376.8,1159.6 L377.6,1162.6 L375.0,1160.9 L372.4,1162.6 L373.2,1159.6 L370.7,1157.6 L373.9,1157.5Z" fill="#fff"/><path d="M401.0,1153.5 L402.1,1156.5 L405.3,1156.6 L402.8,1158.6 L403.6,1161.6 L401.0,1159.9 L398.4,1161.6 L399.2,1158.6 L396.7,1156.6 L399.9,1156.5Z" fill="#fff"/><path d="M478.0,1156.5 L479.1,1159.5 L482.3,1159.6 L479.8,1161.6 L480.6,1164.6 L478.0,1162.9 L475.4,1164.6 L476.2,1161.6 L473.7,1159.6 L476.9,1159.5Z" fill="#fff"/><path d="M324.0,1159.5 L325.1,1162.5 L328.3,1162.6 L325.8,1164.6 L326.6,1167.6 L324.0,1165.9 L321.4,1167.6 L322.2,1164.6 L319.7,1162.6 L322.9,1162.5Z" fill="#fff"/><path d="M300.0,1166.5 L301.1,1169.5 L304.3,1169.6 L301.8,1171.6 L302.6,1174.6 L300.0,1172.9 L297.4,1174.6 L298.2,1171.6 L295.7,1169.6 L298.9,1169.5Z" fill="#fff"/><path d="M353.0,1170.0 L354.5,1174.0 L358.7,1174.1 L355.4,1176.8 L356.5,1180.9 L353.0,1178.5 L349.5,1180.9 L350.6,1176.8 L347.3,1174.1 L351.5,1174.0Z" fill="#fff"/><path d="M415.0,1169.0 L416.5,1173.0 L420.7,1173.1 L417.4,1175.8 L418.5,1179.9 L415.0,1177.5 L411.5,1179.9 L412.6,1175.8 L409.3,1173.1 L413.5,1173.0Z" fill="#fff"/><path d="M382.0,1176.5 L383.1,1179.5 L386.3,1179.6 L383.8,1181.6 L384.6,1184.6 L382.0,1182.9 L379.4,1184.6 L380.2,1181.6 L377.7,1179.6 L380.9,1179.5Z" fill="#fff"/><path d="M448.0,1175.5 L449.1,1178.5 L452.3,1178.6 L449.8,1180.6 L450.6,1183.6 L448.0,1181.9 L445.4,1183.6 L446.2,1180.6 L443.7,1178.6 L446.9,1178.5Z" fill="#fff"/><path d="M467.0,1181.0 L468.5,1185.0 L472.7,1185.1 L469.4,1187.8 L470.5,1191.9 L467.0,1189.5 L463.5,1191.9 L464.6,1187.8 L461.3,1185.1 L465.5,1185.0Z" fill="#fff"/><path d="M244.0,1182.5 L245.1,1185.5 L248.3,1185.6 L245.8,1187.6 L246.6,1190.6 L244.0,1188.9 L241.4,1190.6 L242.2,1187.6 L239.7,1185.6 L242.9,1185.5Z" fill="#fff"/><path d="M232.0,1191.5 L233.1,1194.5 L236.3,1194.6 L233.8,1196.6 L234.6,1199.6 L232.0,1197.9 L229.4,1199.6 L230.2,1196.6 L227.7,1194.6 L230.9,1194.5Z" fill="#fff"/><path d="M245.0,1206.0 L246.5,1210.0 L250.7,1210.1 L247.4,1212.8 L248.5,1216.9 L245.0,1214.5 L241.5,1216.9 L242.6,1212.8 L239.3,1210.1 L243.5,1210.0Z" fill="#fff"/><path d="M286.0,1202.5 L287.1,1205.5 L290.3,1205.6 L287.8,1207.6 L288.6,1210.6 L286.0,1208.9 L283.4,1210.6 L284.2,1207.6 L281.7,1205.6 L284.9,1205.5Z" fill="#fff"/><path d="M273.0,1221.5 L274.1,1224.5 L277.3,1224.6 L274.8,1226.6 L275.6,1229.6 L273.0,1227.9 L270.4,1229.6 L271.2,1226.6 L268.7,1224.6 L271.9,1224.5Z" fill="#fff"/><circle cx="375.0" cy="1095.0" r="1.5" fill="#fff"/><circle cx="354.0" cy="1107.0" r="1.5" fill="#fff"/><circle cx="428.0" cy="1101.0" r="1.5" fill="#fff"/><circle cx="465.0" cy="1110.0" r="1.5" fill="#fff"/><circle cx="405.0" cy="1119.0" r="1.5" fill="#fff"/><circle cx="415.0" cy="1119.0" r="1.5" fill="#fff"/><circle cx="360.0" cy="1125.0" r="1.5" fill="#fff"/><circle cx="283.0" cy="1133.0" r="1.5" fill="#fff"/><circle cx="430.0" cy="1127.0" r="1.5" fill="#fff"/><circle cx="490.0" cy="1135.0" r="1.5" fill="#fff"/><circle cx="367.0" cy="1141.0" r="1.5" fill="#fff"/><circle cx="395.0" cy="1160.0" r="1.5" fill="#fff"/><circle cx="447.0" cy="1158.0" r="1.5" fill="#fff"/><circle cx="424.0" cy="1169.0" r="1.5" fill="#fff"/><circle cx="396.0" cy="1178.0" r="1.5" fill="#fff"/><circle cx="489.0" cy="1184.0" r="1.5" fill="#fff"/><circle cx="325.0" cy="1182.0" r="1.5" fill="#fff"/><circle cx="332.0" cy="1191.0" r="1.5" fill="#fff"/><circle cx="358.0" cy="1190.0" r="1.5" fill="#fff"/><circle cx="232.0" cy="1175.0" r="1.5" fill="#fff"/><circle cx="264.0" cy="1205.0" r="1.5" fill="#fff"/><circle cx="267.0" cy="1207.6" r="1.5" fill="#fff"/><circle cx="306.0" cy="1221.0" r="1.5" fill="#fff"/><circle cx="251.0" cy="1235.0" r="1.5" fill="#fff"/>
<text x="564" y="1248" font-family="Liberation Sans" font-weight="bold" font-size="57" textLength="243" lengthAdjust="spacingAndGlyphs" fill="#6b6b6b" stroke="#fff" stroke-width="0.5">305 x 140</text>
</svg>
</body></html>
